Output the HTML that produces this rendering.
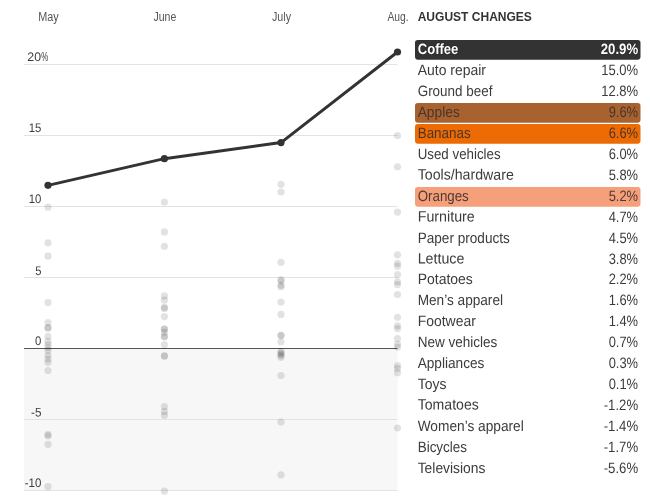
<!DOCTYPE html>
<html lang="en"><head><meta charset="utf-8"><title>August changes</title>
<style>
html,body{margin:0;padding:0;background:#fff}
svg{display:block}
text{font-family:"Liberation Sans",Arial,sans-serif}
.ax{font-size:12.5px;fill:#3c3c3c}
.mo{font-size:12.5px;fill:#555}
.nm,.vl{font-size:15px;fill:#3b3b3b}
.hd{font-size:12px;font-weight:bold;fill:#333}
</style></head><body>
<svg width="650" height="500" viewBox="0 0 650 500">
<rect width="650" height="500" fill="#fff"/>
<rect x="24" y="348.5" width="373.5" height="142" fill="#f7f7f7"/>
<line x1="24" x2="397.5" y1="64.5" y2="64.5" stroke="#e3e3e3" stroke-width="1"/>
<line x1="24" x2="397.5" y1="135.5" y2="135.5" stroke="#e3e3e3" stroke-width="1"/>
<line x1="24" x2="397.5" y1="206.5" y2="206.5" stroke="#e3e3e3" stroke-width="1"/>
<line x1="24" x2="397.5" y1="277.5" y2="277.5" stroke="#e3e3e3" stroke-width="1"/>
<line x1="24" x2="397.5" y1="419.5" y2="419.5" stroke="#e3e3e3" stroke-width="1"/>
<line x1="24" x2="397.5" y1="490.5" y2="490.5" stroke="#e3e3e3" stroke-width="1"/>
<line x1="24" x2="397.5" y1="348.5" y2="348.5" stroke="#555" stroke-width="1"/>
<text class="ax" x="27.3" y="61.0" transform="rotate(0.03 27.3 61.0)" textLength="13.7" lengthAdjust="spacingAndGlyphs">20</text>
<text class="ax" x="41.3" y="61.0" textLength="7.0" lengthAdjust="spacingAndGlyphs">%</text>
<text class="ax" x="28.8" y="132.0" transform="rotate(0.03 28.8 132.0)" textLength="12.6" lengthAdjust="spacingAndGlyphs">15</text>
<text class="ax" x="28.8" y="203.0" transform="rotate(0.03 28.8 203.0)" textLength="12.6" lengthAdjust="spacingAndGlyphs">10</text>
<text class="ax" x="35.2" y="274.5" transform="rotate(0.03 35.2 274.5)" textLength="6.2" lengthAdjust="spacingAndGlyphs">5</text>
<text class="ax" x="35.1" y="344.5" transform="rotate(0.03 35.1 344.5)" textLength="6.3" lengthAdjust="spacingAndGlyphs">0</text>
<text class="ax" x="31.0" y="416.5" transform="rotate(0.03 31.0 416.5)" textLength="10.4" lengthAdjust="spacingAndGlyphs">-5</text>
<text class="ax" x="24.8" y="487.0" transform="rotate(0.03 24.8 487.0)" textLength="16.6" lengthAdjust="spacingAndGlyphs">-10</text>
<text class="mo" x="48.5" y="20.7" text-anchor="middle" textLength="20.5" lengthAdjust="spacingAndGlyphs">May</text>
<text class="mo" x="164.9" y="20.7" text-anchor="middle" textLength="22.8" lengthAdjust="spacingAndGlyphs">June</text>
<text class="mo" x="281.5" y="20.7" text-anchor="middle" textLength="19" lengthAdjust="spacingAndGlyphs">July</text>
<text class="mo" x="398.0" y="20.7" text-anchor="middle" textLength="21.2" lengthAdjust="spacingAndGlyphs">Aug.</text>
<circle cx="48" cy="207.21" r="3.6" fill="#000" fill-opacity="0.115"/>
<circle cx="48" cy="242.85" r="3.6" fill="#000" fill-opacity="0.115"/>
<circle cx="48" cy="256.2" r="3.6" fill="#000" fill-opacity="0.115"/>
<circle cx="48" cy="302.49" r="3.6" fill="#000" fill-opacity="0.115"/>
<circle cx="48" cy="322.51" r="3.6" fill="#000" fill-opacity="0.115"/>
<circle cx="48" cy="327.63" r="3.6" fill="#000" fill-opacity="0.115"/>
<circle cx="48" cy="328.19" r="3.6" fill="#000" fill-opacity="0.115"/>
<circle cx="48" cy="336.43" r="3.6" fill="#000" fill-opacity="0.115"/>
<circle cx="48" cy="341.4" r="3.6" fill="#000" fill-opacity="0.115"/>
<circle cx="48" cy="344.52" r="3.6" fill="#000" fill-opacity="0.115"/>
<circle cx="48" cy="347.79" r="3.6" fill="#000" fill-opacity="0.115"/>
<circle cx="48" cy="350.63" r="3.6" fill="#000" fill-opacity="0.115"/>
<circle cx="48" cy="355.6" r="3.6" fill="#000" fill-opacity="0.115"/>
<circle cx="48" cy="359.01" r="3.6" fill="#000" fill-opacity="0.115"/>
<circle cx="48" cy="362.56" r="3.6" fill="#000" fill-opacity="0.115"/>
<circle cx="48" cy="370.51" r="3.6" fill="#000" fill-opacity="0.115"/>
<circle cx="48" cy="434.41" r="3.6" fill="#000" fill-opacity="0.115"/>
<circle cx="48" cy="435.97" r="3.6" fill="#000" fill-opacity="0.115"/>
<circle cx="48" cy="444.35" r="3.6" fill="#000" fill-opacity="0.115"/>
<circle cx="48" cy="486.67" r="3.6" fill="#000" fill-opacity="0.115"/>
<circle cx="164.4" cy="202.1" r="3.6" fill="#000" fill-opacity="0.115"/>
<circle cx="164.4" cy="231.92" r="3.6" fill="#000" fill-opacity="0.115"/>
<circle cx="164.4" cy="246.26" r="3.6" fill="#000" fill-opacity="0.115"/>
<circle cx="164.4" cy="295.96" r="3.6" fill="#000" fill-opacity="0.115"/>
<circle cx="164.4" cy="300.22" r="3.6" fill="#000" fill-opacity="0.115"/>
<circle cx="164.4" cy="307.32" r="3.6" fill="#000" fill-opacity="0.115"/>
<circle cx="164.4" cy="308.46" r="3.6" fill="#000" fill-opacity="0.115"/>
<circle cx="164.4" cy="316.55" r="3.6" fill="#000" fill-opacity="0.115"/>
<circle cx="164.4" cy="328.76" r="3.6" fill="#000" fill-opacity="0.115"/>
<circle cx="164.4" cy="329.33" r="3.6" fill="#000" fill-opacity="0.115"/>
<circle cx="164.4" cy="332.31" r="3.6" fill="#000" fill-opacity="0.115"/>
<circle cx="164.4" cy="336.15" r="3.6" fill="#000" fill-opacity="0.115"/>
<circle cx="164.4" cy="337.0" r="3.6" fill="#000" fill-opacity="0.115"/>
<circle cx="164.4" cy="344.67" r="3.6" fill="#000" fill-opacity="0.115"/>
<circle cx="164.4" cy="355.6" r="3.6" fill="#000" fill-opacity="0.115"/>
<circle cx="164.4" cy="356.45" r="3.6" fill="#000" fill-opacity="0.115"/>
<circle cx="164.4" cy="406.58" r="3.6" fill="#000" fill-opacity="0.115"/>
<circle cx="164.4" cy="411.41" r="3.6" fill="#000" fill-opacity="0.115"/>
<circle cx="164.4" cy="415.38" r="3.6" fill="#000" fill-opacity="0.115"/>
<circle cx="164.4" cy="491.21" r="3.6" fill="#000" fill-opacity="0.115"/>
<circle cx="281" cy="184.35" r="3.6" fill="#000" fill-opacity="0.115"/>
<circle cx="281" cy="192.02" r="3.6" fill="#000" fill-opacity="0.115"/>
<circle cx="281" cy="262.45" r="3.6" fill="#000" fill-opacity="0.115"/>
<circle cx="281" cy="279.63" r="3.6" fill="#000" fill-opacity="0.115"/>
<circle cx="281" cy="281.05" r="3.6" fill="#000" fill-opacity="0.115"/>
<circle cx="281" cy="285.31" r="3.6" fill="#000" fill-opacity="0.115"/>
<circle cx="281" cy="286.73" r="3.6" fill="#000" fill-opacity="0.115"/>
<circle cx="281" cy="302.07" r="3.6" fill="#000" fill-opacity="0.115"/>
<circle cx="281" cy="314.42" r="3.6" fill="#000" fill-opacity="0.115"/>
<circle cx="281" cy="335.01" r="3.6" fill="#000" fill-opacity="0.115"/>
<circle cx="281" cy="335.86" r="3.6" fill="#000" fill-opacity="0.115"/>
<circle cx="281" cy="341.97" r="3.6" fill="#000" fill-opacity="0.115"/>
<circle cx="281" cy="351.34" r="3.6" fill="#000" fill-opacity="0.115"/>
<circle cx="281" cy="352.76" r="3.6" fill="#000" fill-opacity="0.115"/>
<circle cx="281" cy="354.18" r="3.6" fill="#000" fill-opacity="0.115"/>
<circle cx="281" cy="355.6" r="3.6" fill="#000" fill-opacity="0.115"/>
<circle cx="281" cy="357.3" r="3.6" fill="#000" fill-opacity="0.115"/>
<circle cx="281" cy="375.48" r="3.6" fill="#000" fill-opacity="0.115"/>
<circle cx="281" cy="422.06" r="3.6" fill="#000" fill-opacity="0.115"/>
<circle cx="281" cy="474.88" r="3.6" fill="#000" fill-opacity="0.115"/>
<circle cx="397.5" cy="135.5" r="3.6" fill="#000" fill-opacity="0.115"/>
<circle cx="397.5" cy="166.74" r="3.6" fill="#000" fill-opacity="0.115"/>
<circle cx="397.5" cy="212.18" r="3.6" fill="#000" fill-opacity="0.115"/>
<circle cx="397.5" cy="254.78" r="3.6" fill="#000" fill-opacity="0.115"/>
<circle cx="397.5" cy="263.3" r="3.6" fill="#000" fill-opacity="0.115"/>
<circle cx="397.5" cy="266.14" r="3.6" fill="#000" fill-opacity="0.115"/>
<circle cx="397.5" cy="274.66" r="3.6" fill="#000" fill-opacity="0.115"/>
<circle cx="397.5" cy="281.76" r="3.6" fill="#000" fill-opacity="0.115"/>
<circle cx="397.5" cy="284.6" r="3.6" fill="#000" fill-opacity="0.115"/>
<circle cx="397.5" cy="294.54" r="3.6" fill="#000" fill-opacity="0.115"/>
<circle cx="397.5" cy="317.26" r="3.6" fill="#000" fill-opacity="0.115"/>
<circle cx="397.5" cy="325.78" r="3.6" fill="#000" fill-opacity="0.115"/>
<circle cx="397.5" cy="328.62" r="3.6" fill="#000" fill-opacity="0.115"/>
<circle cx="397.5" cy="338.56" r="3.6" fill="#000" fill-opacity="0.115"/>
<circle cx="397.5" cy="344.24" r="3.6" fill="#000" fill-opacity="0.115"/>
<circle cx="397.5" cy="347.08" r="3.6" fill="#000" fill-opacity="0.115"/>
<circle cx="397.5" cy="365.54" r="3.6" fill="#000" fill-opacity="0.115"/>
<circle cx="397.5" cy="368.38" r="3.6" fill="#000" fill-opacity="0.115"/>
<circle cx="397.5" cy="372.64" r="3.6" fill="#000" fill-opacity="0.115"/>
<circle cx="397.5" cy="428.02" r="3.6" fill="#000" fill-opacity="0.115"/>
<polyline points="48,185.34 164.4,158.65 281,142.6 397.5,52.0" fill="none" stroke="#333" stroke-width="3" stroke-linejoin="round" stroke-linecap="round"/>
<circle cx="48" cy="185.34" r="3.6" fill="#333"/>
<circle cx="164.4" cy="158.65" r="3.6" fill="#333"/>
<circle cx="281" cy="142.6" r="3.6" fill="#333"/>
<circle cx="397.5" cy="52.0" r="3.6" fill="#333"/>
<text class="hd" x="417.7" y="20.6" textLength="114.2" lengthAdjust="spacingAndGlyphs">AUGUST CHANGES</text>
<rect x="415" y="40.05" width="225.5" height="19.6" rx="2.8" fill="#333333"/>
<text class="nm" x="417.7" style="fill:#fff;font-weight:bold;stroke:#242424;stroke-width:1.2px;paint-order:stroke" y="53.60" transform="rotate(0.03 418 53.60)" textLength="40.7" lengthAdjust="spacingAndGlyphs">Coffee</text>
<text class="vl" x="600.78" style="fill:#fff;font-weight:bold;stroke:#242424;stroke-width:1.2px;paint-order:stroke" y="53.60" transform="rotate(0.03 600.78 53.60)" textLength="37.32" lengthAdjust="spacingAndGlyphs">20.9%</text>
<text class="nm" x="417.7" y="74.60" transform="rotate(0.03 418 74.60)" textLength="68.3" lengthAdjust="spacingAndGlyphs">Auto repair</text>
<text class="vl" x="601.15" y="74.60" transform="rotate(0.03 601.15 74.60)" textLength="36.95" lengthAdjust="spacingAndGlyphs">15.0%</text>
<text class="nm" x="417.7" y="95.60" transform="rotate(0.03 418 95.60)" textLength="74.7" lengthAdjust="spacingAndGlyphs">Ground beef</text>
<text class="vl" x="601.15" y="95.60" transform="rotate(0.03 601.15 95.60)" textLength="36.95" lengthAdjust="spacingAndGlyphs">12.8%</text>
<rect x="415" y="103.05" width="225.5" height="19.6" rx="2.8" fill="#a8622f"/>
<text class="nm" x="417.7" style="fill:#46352d" y="116.60" transform="rotate(0.03 418 116.60)" textLength="42.1" lengthAdjust="spacingAndGlyphs">Apples</text>
<text class="vl" x="608.70" style="fill:#46352d" y="116.60" transform="rotate(0.03 608.70 116.60)" textLength="29.40" lengthAdjust="spacingAndGlyphs">9.6%</text>
<rect x="415" y="124.05" width="225.5" height="19.6" rx="2.8" fill="#ec6b04"/>
<text class="nm" x="417.7" style="fill:#4e3424" y="137.60" transform="rotate(0.03 418 137.60)" textLength="52.9" lengthAdjust="spacingAndGlyphs">Bananas</text>
<text class="vl" x="608.70" style="fill:#4e3424" y="137.60" transform="rotate(0.03 608.70 137.60)" textLength="29.40" lengthAdjust="spacingAndGlyphs">6.6%</text>
<text class="nm" x="417.7" y="158.60" transform="rotate(0.03 418 158.60)" textLength="82.9" lengthAdjust="spacingAndGlyphs">Used vehicles</text>
<text class="vl" x="608.70" y="158.60" transform="rotate(0.03 608.70 158.60)" textLength="29.40" lengthAdjust="spacingAndGlyphs">6.0%</text>
<text class="nm" x="417.7" y="179.60" transform="rotate(0.03 418 179.60)" textLength="96.1" lengthAdjust="spacingAndGlyphs">Tools/hardware</text>
<text class="vl" x="608.70" y="179.60" transform="rotate(0.03 608.70 179.60)" textLength="29.40" lengthAdjust="spacingAndGlyphs">5.8%</text>
<rect x="415" y="187.05" width="225.5" height="19.6" rx="2.8" fill="#f5a07a"/>
<text class="nm" x="417.7" style="fill:#4c3a35" y="200.60" transform="rotate(0.03 418 200.60)" textLength="51.1" lengthAdjust="spacingAndGlyphs">Oranges</text>
<text class="vl" x="608.70" style="fill:#4c3a35" y="200.60" transform="rotate(0.03 608.70 200.60)" textLength="29.40" lengthAdjust="spacingAndGlyphs">5.2%</text>
<text class="nm" x="417.7" y="221.60" transform="rotate(0.03 418 221.60)" textLength="57.1" lengthAdjust="spacingAndGlyphs">Furniture</text>
<text class="vl" x="608.70" y="221.60" transform="rotate(0.03 608.70 221.60)" textLength="29.40" lengthAdjust="spacingAndGlyphs">4.7%</text>
<text class="nm" x="417.7" y="242.60" transform="rotate(0.03 418 242.60)" textLength="92.1" lengthAdjust="spacingAndGlyphs">Paper products</text>
<text class="vl" x="608.70" y="242.60" transform="rotate(0.03 608.70 242.60)" textLength="29.40" lengthAdjust="spacingAndGlyphs">4.5%</text>
<text class="nm" x="417.7" y="263.60" transform="rotate(0.03 418 263.60)" textLength="46.7" lengthAdjust="spacingAndGlyphs">Lettuce</text>
<text class="vl" x="608.70" y="263.60" transform="rotate(0.03 608.70 263.60)" textLength="29.40" lengthAdjust="spacingAndGlyphs">3.8%</text>
<text class="nm" x="417.7" y="283.60" transform="rotate(0.03 418 283.60)" textLength="55.1" lengthAdjust="spacingAndGlyphs">Potatoes</text>
<text class="vl" x="608.70" y="283.60" transform="rotate(0.03 608.70 283.60)" textLength="29.40" lengthAdjust="spacingAndGlyphs">2.2%</text>
<text class="nm" x="417.7" y="304.60" transform="rotate(0.03 418 304.60)" textLength="85.3" lengthAdjust="spacingAndGlyphs">Men’s apparel</text>
<text class="vl" x="608.70" y="304.60" transform="rotate(0.03 608.70 304.60)" textLength="29.40" lengthAdjust="spacingAndGlyphs">1.6%</text>
<text class="nm" x="417.7" y="325.60" transform="rotate(0.03 418 325.60)" textLength="58.1" lengthAdjust="spacingAndGlyphs">Footwear</text>
<text class="vl" x="608.70" y="325.60" transform="rotate(0.03 608.70 325.60)" textLength="29.40" lengthAdjust="spacingAndGlyphs">1.4%</text>
<text class="nm" x="417.7" y="346.60" transform="rotate(0.03 418 346.60)" textLength="79.7" lengthAdjust="spacingAndGlyphs">New vehicles</text>
<text class="vl" x="608.70" y="346.60" transform="rotate(0.03 608.70 346.60)" textLength="29.40" lengthAdjust="spacingAndGlyphs">0.7%</text>
<text class="nm" x="417.7" y="367.60" transform="rotate(0.03 418 367.60)" textLength="66.7" lengthAdjust="spacingAndGlyphs">Appliances</text>
<text class="vl" x="608.70" y="367.60" transform="rotate(0.03 608.70 367.60)" textLength="29.40" lengthAdjust="spacingAndGlyphs">0.3%</text>
<text class="nm" x="417.7" y="388.60" transform="rotate(0.03 418 388.60)" textLength="28.7" lengthAdjust="spacingAndGlyphs">Toys</text>
<text class="vl" x="608.70" y="388.60" transform="rotate(0.03 608.70 388.60)" textLength="29.40" lengthAdjust="spacingAndGlyphs">0.1%</text>
<text class="nm" x="417.7" y="409.60" transform="rotate(0.03 418 409.60)" textLength="61.1" lengthAdjust="spacingAndGlyphs">Tomatoes</text>
<text class="vl" x="603.70" y="409.60" transform="rotate(0.03 603.70 409.60)" textLength="34.40" lengthAdjust="spacingAndGlyphs">-1.2%</text>
<text class="nm" x="417.7" y="430.60" transform="rotate(0.03 418 430.60)" textLength="106.1" lengthAdjust="spacingAndGlyphs">Women’s apparel</text>
<text class="vl" x="603.70" y="430.60" transform="rotate(0.03 603.70 430.60)" textLength="34.40" lengthAdjust="spacingAndGlyphs">-1.4%</text>
<text class="nm" x="417.7" y="451.60" transform="rotate(0.03 418 451.60)" textLength="49.3" lengthAdjust="spacingAndGlyphs">Bicycles</text>
<text class="vl" x="603.70" y="451.60" transform="rotate(0.03 603.70 451.60)" textLength="34.40" lengthAdjust="spacingAndGlyphs">-1.7%</text>
<text class="nm" x="417.7" y="472.60" transform="rotate(0.03 418 472.60)" textLength="67.7" lengthAdjust="spacingAndGlyphs">Televisions</text>
<text class="vl" x="603.70" y="472.60" transform="rotate(0.03 603.70 472.60)" textLength="34.40" lengthAdjust="spacingAndGlyphs">-5.6%</text>
</svg></body></html>
